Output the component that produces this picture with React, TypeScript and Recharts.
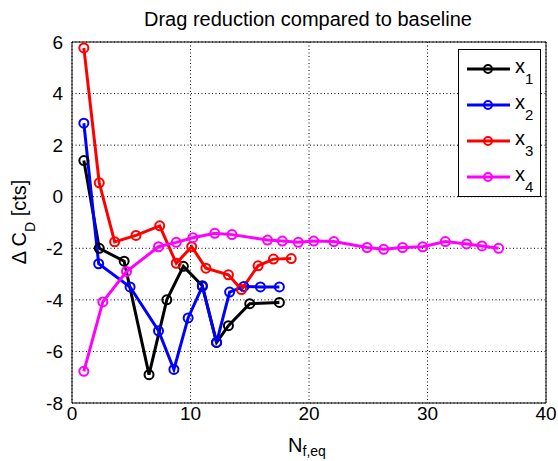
import { LineChart, Line, XAxis, YAxis, CartesianGrid, Legend } from 'recharts';

const FONT = '"Liberation Sans", Arial, sans-serif';

// values
const x1 = [1, 2.3, 4.4, 6.5, 8.0, 9.4, 11.0, 12.2, 13.2, 15.0, 17.5];
const y1 = [1.4, -2.0, -2.5, -6.9, -4.0, -2.7, -3.45, -5.65, -5.0, -4.15, -4.1];

const x2 = [1, 2.25, 4.9, 7.3, 8.6, 9.8, 11.0, 12.2, 13.3, 14.5, 15.9, 17.5];
const y2 = [2.85, -2.6, -3.5, -5.2, -6.7, -4.7, -3.48, -5.65, -3.7, -3.48, -3.5, -3.5];

const x3 = [1, 2.3, 3.6, 5.4, 7.4, 8.8, 10.1, 11.3, 13.2, 14.3, 15.7, 17.0, 18.5];
const y3 = [5.77, 0.54, -1.75, -1.5, -1.13, -2.58, -1.94, -2.77, -3.03, -3.6, -2.68, -2.42, -2.4];

const x4 = [1, 2.6, 4.6, 7.3, 8.8, 10.2, 12.05, 13.5, 16.5, 17.75, 19.1, 20.4, 22.1, 24.9, 26.3, 27.9, 29.6, 31.5, 33.3, 34.6, 36.0];
const y4 = [-6.77, -4.08, -2.9, -1.94, -1.77, -1.59, -1.42, -1.47, -1.68, -1.72, -1.77, -1.72, -1.74, -1.97, -2.04, -1.97, -1.94, -1.74, -1.83, -1.91, -2.0];

const xTicks = [0, 10, 20, 30, 40];
const yTicks = [-8, -6, -4, -2, 0, 2, 4, 6];

const toPoints = (xs: number[], ys: number[]) => xs.map((x, i) => ({ x, y: ys[i] }));

const series = [
  { id: '1', color: '#000000', data: toPoints(x1, y1) },
  { id: '2', color: '#0000ff', data: toPoints(x2, y2) },
  { id: '3', color: '#ff0000', data: toPoints(x3, y3) },
  { id: '4', color: '#ff00ff', data: toPoints(x4, y4) },
];

const tickStyle = { fontSize: 19, fill: '#000', fontFamily: FONT };

function LegendBox() {
  return (
    <svg width={84} height={150} style={{ display: 'block' }}>
      <rect x={0.5} y={0.5} width={82} height={147} fill="#fff" stroke="#000" strokeWidth={1} />
      {series.map((s, i) => {
        const cy = 20 + i * 36;
        return (
          <g key={s.id}>
            <line x1={9} y1={cy} x2={52} y2={cy} stroke={s.color} strokeWidth={3} />
            <circle cx={30} cy={cy} r={4} fill="none" stroke={s.color} strokeWidth={2} />
            <text x={57} y={cy + 4} fontSize={20} fontFamily={FONT} fill="#000">
              x<tspan dy={11} fontSize={15}>{s.id}</tspan>
            </text>
          </g>
        );
      })}
    </svg>
  );
}

export default function App() {
  return (
    <div style={{ position: 'absolute', left: 0, top: 0, width: 558, height: 461, background: '#fff' }}>
      <LineChart width={558} height={461} margin={{ top: 42, right: 12, bottom: 28, left: 0 }}>
        <CartesianGrid stroke="#000" strokeDasharray="1 2.5" />
        <XAxis
          type="number"
          dataKey="x"
          domain={[0, 40]}
          ticks={xTicks}
          allowDataOverflow
          height={30}
          tickSize={0}
          tickMargin={4}
          tickLine={false}
          axisLine={{ stroke: '#000' }}
          tick={tickStyle}
          label={{
            content: () => (
              <text x={307} y={452} textAnchor="middle" fontSize={20} fontFamily={FONT} fill="#000">
                N<tspan dy={4} fontSize={14}>f,eq</tspan>
              </text>
            ),
          }}
        />
        <XAxis
          xAxisId="top"
          orientation="top"
          type="number"
          domain={[0, 40]}
          ticks={xTicks}
          allowDataOverflow
          mirror
          tick={false}
          tickSize={5}
          tickLine={{ stroke: '#000' }}
          axisLine={{ stroke: '#000' }}
          label={{
            content: () => (
              <text x={308} y={26} textAnchor="middle" fontSize={20} fontFamily={FONT} fill="#000">
                Drag reduction compared to baseline
              </text>
            ),
          }}
        />
        <XAxis
          xAxisId="bottomIn"
          type="number"
          domain={[0, 40]}
          ticks={xTicks}
          allowDataOverflow
          mirror
          tick={false}
          tickSize={5}
          tickLine={{ stroke: '#000' }}
          axisLine={false}
        />
        <YAxis
          type="number"
          domain={[-8, 6]}
          ticks={yTicks}
          allowDataOverflow
          width={72}
          tickSize={0}
          tickMargin={9}
          tickLine={false}
          axisLine={{ stroke: '#000' }}
          tick={tickStyle}
          label={{
            content: () => (
              <text
                x={26}
                y={222}
                textAnchor="middle"
                transform="rotate(-90, 26, 222)"
                fontSize={20}
                fontFamily={FONT}
                fill="#000"
              >
                {'\u0394 C'}
                <tspan dy={9} fontSize={14}>D</tspan>
                <tspan dy={-9}>{' [cts]'}</tspan>
              </text>
            ),
          }}
        />
        <YAxis
          yAxisId="leftIn"
          type="number"
          domain={[-8, 6]}
          ticks={yTicks}
          allowDataOverflow
          mirror
          tick={false}
          tickSize={5}
          tickLine={{ stroke: '#000' }}
          axisLine={false}
        />
        <YAxis
          yAxisId="right"
          orientation="right"
          type="number"
          domain={[-8, 6]}
          ticks={yTicks}
          allowDataOverflow
          mirror
          tick={false}
          tickSize={5}
          tickLine={{ stroke: '#000' }}
          axisLine={{ stroke: '#000' }}
        />
        {series.map((s) => (
          <Line
            key={s.id}
            data={s.data}
            dataKey="y"
            name={`x${s.id}`}
            stroke={s.color}
            strokeWidth={3}
            dot={{ r: 4.5, fill: 'none', stroke: s.color, strokeWidth: 2 }}
            isAnimationActive={false}
          />
        ))}
        <Legend
          layout="horizontal"
          verticalAlign="middle"
          align="center"
          content={() => <LegendBox />}
          wrapperStyle={{ left: 458, top: 49, width: 84, height: 150 }}
        />
      </LineChart>
    </div>
  );
}
